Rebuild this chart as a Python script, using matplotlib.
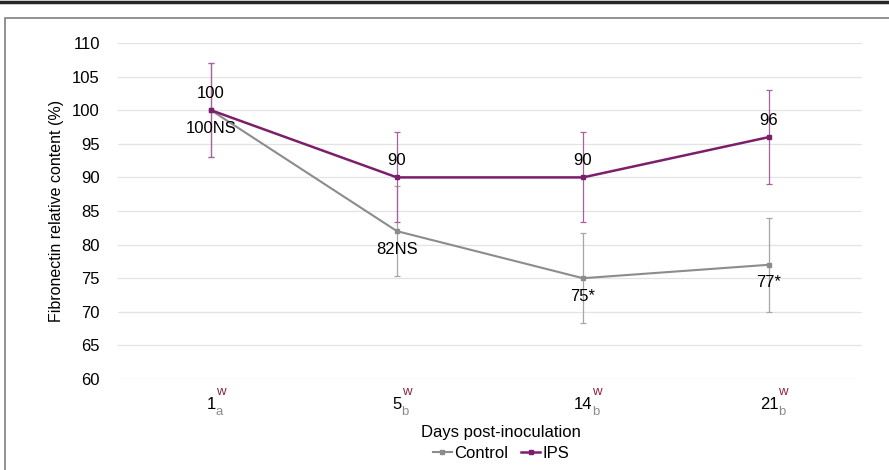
import matplotlib.pyplot as plt
from matplotlib.lines import Line2D
from matplotlib.patches import Rectangle

plt.rcParams['font.family'] = ['Liberation Sans', 'DejaVu Sans']

# ---- data ----
days = ["1", "5", "14", "21"]
sup_marks = ["w", "w", "w", "w"]
sub_marks = ["a", "b", "b", "b"]

control = [100, 82, 75, 77]
control_err = [7, 6.7, 6.7, 7]
control_labels = ["100NS", "82NS", "75*", "77*"]

ips = [100, 90, 90, 96]
ips_err = [7, 6.7, 6.7, 7]
ips_labels = ["100", "90", "90", "96"]

c_ctrl = "#8c8c8c"
c_ips = "#7b1f6c"
fs = 12

fig = plt.figure(figsize=(8.89, 4.70), dpi=100)
ax = fig.add_axes([0.1327, 0.1936, 0.8369, 0.7149])

x = list(range(len(days)))

# error bars first so the lines sit on top
ax.errorbar(x, control, yerr=control_err, fmt="none", ecolor="#a6a6a6",
            elinewidth=0.9, capsize=2.5, capthick=0.9, zorder=2)
ax.errorbar(x, ips, yerr=ips_err, fmt="none", ecolor="#a8619c",
            elinewidth=0.9, capsize=2.5, capthick=0.9, zorder=2)

ax.plot(x, control, color=c_ctrl, lw=1.5, marker="s", ms=3.5, label="Control", zorder=3)
ax.plot(x, ips, color=c_ips, lw=1.8, marker="s", ms=3.5, label="IPS", zorder=4)

for xi, v, t in zip(x, ips, ips_labels):
    ax.annotate(t, (xi, v), xytext=(0, 12), textcoords="offset points",
                ha="center", va="center", fontsize=fs, color="black")
for xi, v, t in zip(x, control, control_labels):
    ax.annotate(t, (xi, v), xytext=(0, -13), textcoords="offset points",
                ha="center", va="center", fontsize=fs, color="black")

ax.set_xlim(-0.5, len(days) - 0.5)
ax.set_ylim(60, 110)
ax.set_yticks(range(60, 111, 5))
ax.grid(axis="y", color="#e3e3e3", lw=0.9)
ax.set_axisbelow(True)
for s in ax.spines.values():
    s.set_visible(False)
ax.tick_params(axis="both", length=0, labelsize=fs)
ax.tick_params(axis="y", pad=13)
ax.set_xticks(x)
ax.set_xticklabels(days)
ax.tick_params(axis="x", pad=13)

# superscript / subscript marks next to each day
for xi, lab, sp, sb in zip(x, days, sup_marks, sub_marks):
    dx = 3.3 * len(lab)
    ax.annotate(sp, (xi, 60), xytext=(dx, -9), textcoords="offset points",
                ha="left", va="center", fontsize=9.5, color="#8b2346",
                annotation_clip=False)
    ax.annotate(sb, (xi, 60), xytext=(dx, -24), textcoords="offset points",
                ha="left", va="center", fontsize=9.5, color="#8c8c8c",
                annotation_clip=False)

ax.set_ylabel("Fibronectin relative content (%)", fontsize=11.5, labelpad=6)
fig.text(0.5637, 1 - 433 / 470, "Days post-inoculation", ha="center", va="center",
         fontsize=fs)

fig.legend(loc="center", bbox_to_anchor=(0.5637, 1 - 453 / 470), ncol=2,
           frameon=False, fontsize=fs, handlelength=1.1, handletextpad=0.15,
           columnspacing=0.8, borderpad=0)

# frame and top band
fig.patches.append(Rectangle((5 / 889, -0.01), 1.0, 1 - 18 / 470 + 0.01,
                             transform=fig.transFigure, fill=False,
                             edgecolor="#7f7f7f", lw=1.2, zorder=0))
fig.lines.append(Line2D([0, 1], [1 - 1.5 / 470, 1 - 1.5 / 470], transform=fig.transFigure,
                        color="#262626", lw=2.5))

fig.savefig("out.png", dpi=100)
